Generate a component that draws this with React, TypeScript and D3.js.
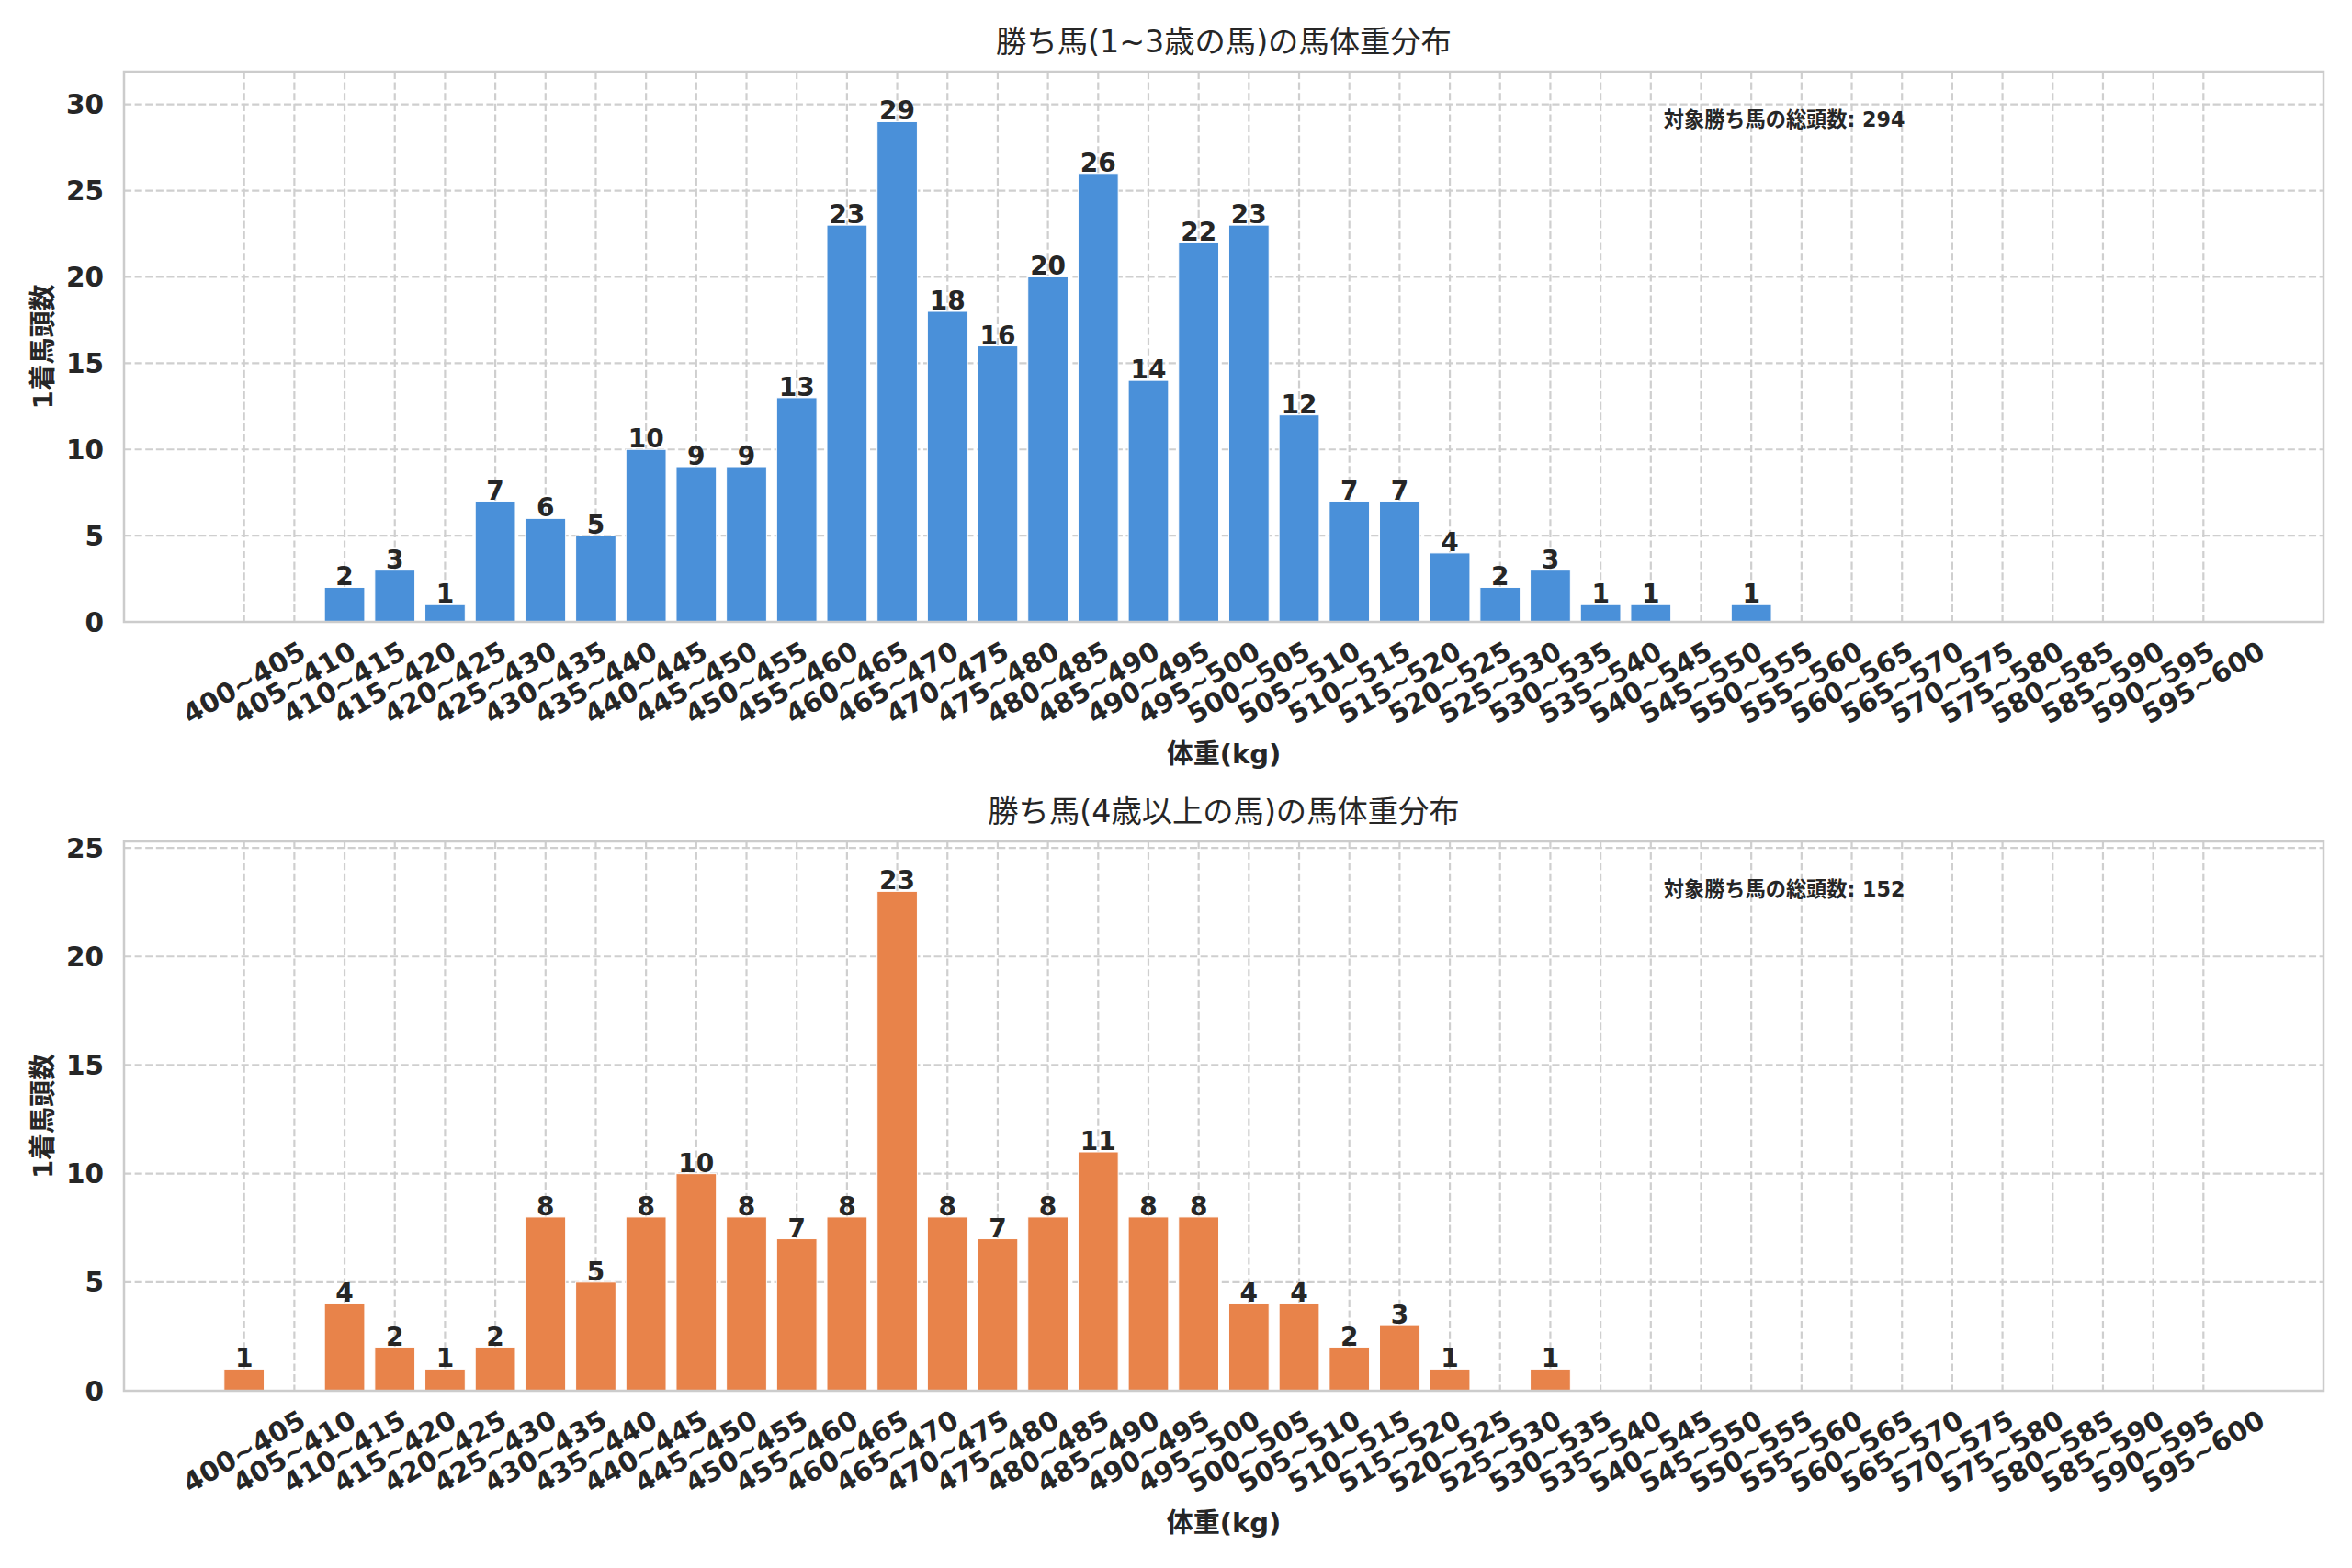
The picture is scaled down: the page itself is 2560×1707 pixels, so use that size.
import { useEffect } from "react";
import * as d3 from "d3";

// bins (kg)
const weightBins = [
  "400~405", "405~410", "410~415", "415~420", "420~425", "425~430", "430~435", "435~440",
  "440~445", "445~450", "450~455", "455~460", "460~465", "465~470", "470~475", "475~480",
  "480~485", "485~490", "490~495", "495~500", "500~505", "505~510", "510~515", "515~520",
  "520~525", "525~530", "530~535", "535~540", "540~545", "545~550", "550~555", "555~560",
  "560~565", "565~570", "570~575", "575~580", "580~585", "585~590", "590~595", "595~600",
];

const youngCounts = [
  0, 0, 2, 3, 1, 7, 6, 5, 10, 9, 9, 13, 23, 29, 18, 16, 20, 26, 14, 22,
  23, 12, 7, 7, 4, 2, 3, 1, 1, 0, 1, 0, 0, 0, 0, 0, 0, 0, 0, 0,
];

const olderCounts = [
  1, 0, 4, 2, 1, 2, 8, 5, 8, 10, 8, 7, 8, 23, 8, 7, 8, 11, 8, 8,
  4, 4, 2, 3, 1, 0, 1, 0, 0, 0, 0, 0, 0, 0, 0, 0, 0, 0, 0, 0,
];

const yTicksYoung = [0, 5, 10, 15, 20, 25, 30];
const yTicksOlder = [0, 5, 10, 15, 20, 25];

const W = 2560;
const H = 1707;
const LEFT = 135;
const RIGHT = 2529;
const TEXT = "#262626";
const GRID = "#cfcfcf";
const FONT = "'DejaVu Sans', 'Noto Sans CJK JP', sans-serif";
const TICK = 29.5;

interface PanelProps {
  top: number;
  bottom: number;
  title: string;
  counts: number[];
  yTicks: number[];
  color: string;
}

const Panel = ({ top, bottom, title, counts, yTicks, color }: PanelProps) => {
  const x = d3.scaleLinear().domain([-2.39, 41.39]).range([LEFT, RIGHT]);
  const yMax = (d3.max(counts) ?? 1) * 1.1;
  const y = d3.scaleLinear().domain([0, yMax]).range([bottom, top]);
  const bw = x(0.8) - x(0);
  const total = d3.sum(counts);

  return (
    <g>
      {/* grid */}
      {yTicks.map((t) => (
        <line key={"gy" + t} x1={LEFT} x2={RIGHT} y1={y(t)} y2={y(t)}
          stroke={GRID} strokeWidth={2.2} strokeDasharray="8.1,3.5" />
      ))}
      {weightBins.map((b, i) => (
        <line key={"gx" + b} x1={x(i)} x2={x(i)} y1={top} y2={bottom}
          stroke={GRID} strokeWidth={2.2} strokeDasharray="8.1,3.5" />
      ))}

      {/* bars */}
      {counts.map((c, i) =>
        c > 0 ? (
          <rect key={"b" + i} x={x(i) - bw / 2} y={y(c)} width={bw} height={y(0) - y(c)}
            fill={color} stroke="#ffffff" strokeWidth={1} />
        ) : null
      )}

      {/* spines */}
      <rect x={LEFT} y={top} width={RIGHT - LEFT} height={bottom - top}
        fill="none" stroke="#cccccc" strokeWidth={2.5} />

      {/* value labels */}
      {counts.map((c, i) =>
        c > 0 ? (
          <text key={"v" + i} x={x(i)} y={y(c) - 2} textAnchor="middle"
            fontSize={28} fontWeight="bold" fill={TEXT}>{c}</text>
        ) : null
      )}

      {/* y ticks */}
      {yTicks.map((t) => (
        <text key={"yt" + t} x={LEFT - 22} y={y(t)} dy="0.36em" textAnchor="end"
          fontSize={TICK} fontWeight="bold" fill={TEXT}>{t}</text>
      ))}

      {/* x ticks */}
      {weightBins.map((b, i) => (
        <text key={"xt" + b} transform={`translate(${x(i) + 5},${bottom + 75}) rotate(-30)`}
          textAnchor="middle" fontSize={TICK} fontWeight="bold" fill={TEXT}>{b}</text>
      ))}

      {/* labels */}
      <text x={(LEFT + RIGHT) / 2} y={top - 21} textAnchor="middle" fontSize={33.3} fill={TEXT}>
        {title}
      </text>
      <text x={(LEFT + RIGHT) / 2} y={bottom + 154} textAnchor="middle" fontSize={29}
        fontWeight="bold" fill={TEXT}>体重(kg)</text>
      <text transform={`translate(57,${(top + bottom) / 2}) rotate(-90)`} textAnchor="middle"
        fontSize={29} fontWeight="bold" fill={TEXT}>1着馬頭数</text>
      <text x={LEFT + 0.7 * (RIGHT - LEFT)} y={top + 60} fontSize={22.2} fontWeight="bold" fill={TEXT}>
        対象勝ち馬の総頭数: {total}
      </text>
    </g>
  );
};

export default function App() {
  useEffect(() => {
    document.body.style.margin = "0";
  }, []);

  return (
    <svg width={W} height={H} style={{ display: "block", background: "#ffffff", fontFamily: FONT }}>
      <rect width={W} height={H} fill="#ffffff" />
      <Panel top={78} bottom={677} title="勝ち馬(1~3歳の馬)の馬体重分布"
        counts={youngCounts} yTicks={yTicksYoung} color="#4a90d9" />
      <Panel top={916} bottom={1514} title="勝ち馬(4歳以上の馬)の馬体重分布"
        counts={olderCounts} yTicks={yTicksOlder} color="#e8834a" />
    </svg>
  );
}
